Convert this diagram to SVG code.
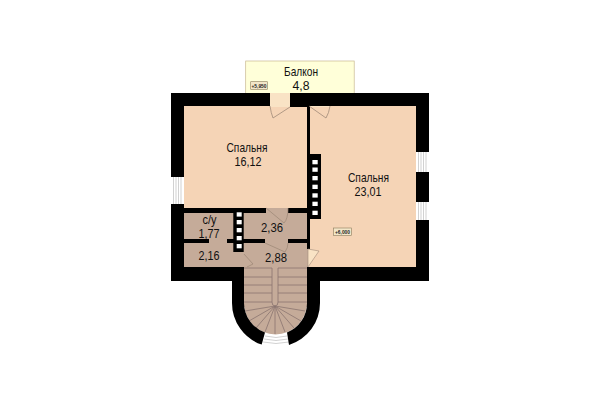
<svg xmlns="http://www.w3.org/2000/svg" width="600" height="400" viewBox="0 0 600 400">
<style>
.w{fill:#000}
.l{fill:none;stroke:#a08a78;stroke-width:.8}
.s{fill:none;stroke:#8a7570;stroke-width:.8}
.win{fill:#fff}
.wl{stroke:#bdbdbd;stroke-width:.7;fill:none}
.c{fill:#fff}
text{font-family:"Liberation Sans",Arial,sans-serif;font-size:13.5px;fill:#111;text-anchor:middle}
text.m{font-size:5.500px;font-weight:bold;fill:#222}
.mb{fill:#f3e6c8;stroke:#8a7a5a;stroke-width:.6}
</style>
<rect width="600" height="400" fill="#fff"/>
<g id="balcony"><rect x="245.700" y="61" width="108.500" height="33" fill="#ffffd9" stroke="#c8b890" stroke-width=".7"/>
<text x="301" y="76" textLength="34" lengthAdjust="spacingAndGlyphs">Балкон</text><text x="301" y="90" textLength="17" lengthAdjust="spacingAndGlyphs">4,8</text>
<rect class="mb" x="250.700" y="81.700" width="16.600" height="7.600"/><text class="m" x="259" y="87.500" textLength="15" lengthAdjust="spacingAndGlyphs">+5,950</text></g>
<g id="bedroom-1"><rect x="184" y="106" width="123" height="102" fill="#f5d4b6"/><rect x="270" y="93" width="20" height="14" fill="#f9e3c5"/>
<text x="247" y="152" textLength="41" lengthAdjust="spacingAndGlyphs">Спальня</text><text x="248" y="166" textLength="27" lengthAdjust="spacingAndGlyphs">16,12</text></g>
<g id="bedroom-2"><rect x="309" y="106" width="107" height="161" fill="#f5d4b6"/><rect x="309" y="93" width="21" height="14" fill="#f9e3c5"/>
<text x="368.500" y="182" textLength="41" lengthAdjust="spacingAndGlyphs">Спальня</text><text x="368" y="195.500" textLength="27" lengthAdjust="spacingAndGlyphs">23,01</text>
<rect class="mb" x="333.500" y="228" width="18" height="7.600"/><text class="m" x="342.500" y="233.800" textLength="15" lengthAdjust="spacingAndGlyphs">+6,000</text></g>
<g id="wet-rooms"><rect x="184" y="208" width="124" height="60" fill="#c5ab99"/><rect x="244" y="267" width="63" height="40" fill="#c5ab99"/>
<text x="209.500" y="224" textLength="14" lengthAdjust="spacingAndGlyphs">с/у</text><text x="209" y="238" textLength="21" lengthAdjust="spacingAndGlyphs">1,77</text>
<text x="209" y="260" textLength="21" lengthAdjust="spacingAndGlyphs">2,16</text><text x="272" y="232" textLength="22" lengthAdjust="spacingAndGlyphs">2,36</text><text x="276" y="262" textLength="22" lengthAdjust="spacingAndGlyphs">2,88</text></g>
<g id="stair">
<path d="M244 268H307V303A31.500 31.500 0 0 1 244 303Z" fill="#c5ab99"/>
<path class="s" d="M244 268H272M278 268H307M244 277H272M278 277H307M244 285H272M278 285H307M244 293H272M278 293H307M244 302H272M278 302H307M272 268V302Q272 306 275 306Q278 306 278 302V268"/>
<path class="s" d="M275 306L275 334M275 306L265 332M275 306L256 328M275 306L249 321M275 306L245 311M275 306L285 332M275 306L294 328M275 306L301 321M275 306L305 311"/>
<path class="wl" d="M265 336Q276 339 287 336M264 339Q276 342 288 339M263 342Q276 345 289 342"/>
</g>
<g id="walls">
<path class="w" d="M171 93H270V106H184V177H171ZM290 93H330V106H310V154H321V219H310V249H307V107H290ZM330 93H429V152H416V106H330ZM416 172H429V202H416ZM416 220H429V281H320V303A44 44 0 0 1 289 345L287 332.500A31.500 31.500 0 0 0 307 303V267H416ZM171 204H184V267H244V303A31.500 31.500 0 0 0 265 332.500L261.700 344.600A44 44 0 0 1 232 303V281H171Z"/>
<path class="w" d="M184 208H266V213H184ZM288 208H309V213H288ZM184 239H209V243H184ZM227 239H265V243H227ZM288 239H308V243H288ZM233.300 210.700H243.700V252H233.300Z"/>
</g>
<g id="openings">
<rect class="win" x="171" y="177" width="13" height="27"/><path class="wl" d="M173.500 177V204M176 177V204M178.500 177V204M181 177V204"/>
<rect class="win" x="416" y="152" width="13" height="20"/><path class="wl" d="M418.500 152V172M421 152V172M423.500 152V172M426 152V172"/>
<rect class="win" x="416" y="202" width="13" height="18"/><path class="wl" d="M418.500 202V220M421 202V220M423.500 202V220M426 202V220"/>
<g class="c"><rect x="236.700" y="212.300" width="5" height="4.300"/><rect x="236.700" y="220" width="5" height="4.300"/><rect x="236.700" y="228" width="5" height="4.300"/><rect x="236.700" y="236" width="5" height="4.300"/><rect x="236.700" y="244" width="5" height="4.300"/>
<rect x="312.400" y="160" width="5.300" height="4.300"/><rect x="312.400" y="167.500" width="5.300" height="4.300"/><rect x="312.400" y="176" width="5.300" height="4.300"/><rect x="312.400" y="184.700" width="5.300" height="4.300"/><rect x="312.400" y="193.300" width="5.300" height="4.300"/><rect x="312.400" y="201.700" width="5.300" height="4.300"/><rect x="312.400" y="210.700" width="5.300" height="4.300"/></g>
</g>
<g id="connectors">
<path class="l" d="M270 106Q271 113 273 118L290 107"/>
<path class="l" d="M309 106L326 118Q329 113 330 106"/>
<path class="l" d="M266 208L284 223Q288 219 288 208" fill="#c5ab99"/>
<path class="l" d="M265 243L285 252Q288 248 288 243"/>
<path d="M308 249L319 251L308 267Z" fill="#f9e3c5" stroke="#a08a78" stroke-width=".6"/>
<path class="l" d="M244 254L253 264L247 267"/>
</g>
</svg>
